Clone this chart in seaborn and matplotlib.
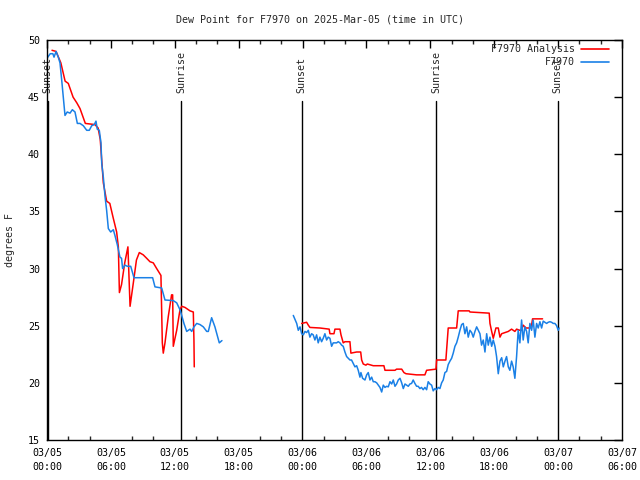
import matplotlib
matplotlib.use('Agg')
import matplotlib.pyplot as plt
import matplotlib.dates as mdates
from matplotlib.lines import Line2D
import seaborn as sns
import pandas as pd

# Hours after 2025-03-05 00:00 UTC
analysis_hours_1 = [0.47, 0.85, 1.3, 1.7, 2.0, 2.45, 2.8, 3.1, 3.6, 4.5, 4.8, 5.0, 5.29, 5.6, 5.9,
                    6.2, 6.54, 6.7, 6.8, 7.0, 7.3, 7.6, 7.8, 8.1, 8.4, 8.67, 9.04, 9.36, 9.67,
                    9.98, 10.3, 10.7, 10.83, 10.92, 11.08, 11.39, 11.7, 11.8, 11.86, 12.18,
                    12.49, 12.65, 12.96, 13.43, 13.74, 13.8, 13.83]
analysis_vals_1 = [49.1, 49.0, 48.0, 46.4, 46.2, 45.0, 44.5, 44.0, 42.7, 42.6, 42.3, 41.3, 37.5, 35.9, 35.7,
                   34.5, 33.2, 31.9, 27.9, 28.6, 30.5, 31.9, 26.7, 28.7, 30.75, 31.4, 31.2, 30.9, 30.6,
                   30.5, 30.0, 29.4, 23.5, 22.6, 23.5, 25.8, 27.7, 27.7, 23.2, 24.6,
                   26.4, 26.7, 26.6, 26.3, 26.2, 23.75, 21.4]

analysis_hours_2 = [23.92, 24.38, 24.54, 24.69, 25.63, 26.5, 26.57, 26.95, 27.04, 27.51, 27.61, 27.82,
                    27.98, 28.45, 28.54, 29.08, 29.46, 29.55, 29.7, 29.95, 30.08, 30.64, 31.64, 31.74,
                    32.68, 32.83, 33.31, 33.52, 33.71, 34.71, 35.49, 35.65, 36.53, 36.59, 37.46, 37.53,
                    37.68, 38.47, 38.62, 39.65, 39.72, 41.53, 41.6, 41.76, 41.91, 42.16, 42.38, 42.54,
                    42.7, 43.32, 43.63, 43.94, 44.1, 44.41, 44.57, 44.72, 44.98, 45.35, 45.51, 45.6, 46.54]
analysis_vals_2 = [25.2, 25.3, 25.05, 24.85, 24.8, 24.7, 24.3, 24.3, 24.7, 24.7, 24.2, 23.5,
                   23.6, 23.6, 22.6, 22.7, 22.7, 22.0, 21.65, 21.55, 21.65, 21.5, 21.5, 21.1,
                   21.1, 21.2, 21.2, 20.9, 20.8, 20.7, 20.7, 21.1, 21.2, 22.0, 22.0, 22.9,
                   24.8, 24.8, 26.3, 26.3, 26.2, 26.1, 25.2, 24.5, 23.9, 24.8, 24.8, 24.0,
                   24.3, 24.5, 24.7, 24.5, 24.7, 24.6, 24.6, 25.05, 24.8, 24.8, 25.05, 25.6, 25.6]

obs_hours_1 = [0.0, 0.3, 0.55, 0.66, 0.85, 1.06, 1.22, 1.38, 1.53, 1.69, 1.9, 2.16, 2.38, 2.63, 2.85,
               3.1, 3.41, 3.73, 3.97, 4.2, 4.44, 4.6, 4.72, 4.91, 5.07, 5.14, 5.29, 5.45, 5.6, 5.76,
               5.98, 6.23, 6.38, 6.6, 6.85, 7.0, 7.1, 7.32, 7.54, 7.86, 8.17, 9.92, 10.14, 10.77,
               11.08, 11.86, 12.18, 12.49, 12.65, 12.86, 13.12, 13.43, 13.59, 13.8, 14.06, 14.37,
               14.68, 15.0, 15.15, 15.46, 15.77, 16.18, 16.43]
obs_vals_1 = [48.4, 48.8, 48.8, 48.5, 49.0, 48.5, 48.0, 46.5, 45.0, 43.4, 43.7, 43.6, 43.9, 43.7, 42.7,
              42.7, 42.5, 42.1, 42.1, 42.5, 42.6, 42.9, 42.2, 42.1, 41.0, 39.2, 38.0, 36.3, 35.1, 33.5,
              33.2, 33.4, 32.9, 32.1, 31.0, 30.9, 30.0, 30.3, 30.2, 30.2, 29.2, 29.2, 28.4, 28.3,
              27.25, 27.2, 27.0, 26.4, 25.9, 25.2, 24.5, 24.7, 24.5, 24.9, 25.2, 25.1,
              24.9, 24.5, 24.5, 25.7, 24.9, 23.5, 23.7]

obs_hours_2 = [23.13, 23.45, 23.6, 23.76, 23.92, 24.07, 24.23, 24.38, 24.54, 24.69, 24.85, 25.0, 25.16,
               25.32, 25.47, 25.63, 25.79, 25.94, 26.1, 26.26, 26.41, 26.57, 26.73, 26.88, 27.2, 27.35,
               27.51, 27.67, 27.82, 27.98, 28.14, 28.29, 28.45, 28.6, 28.76, 28.92, 29.08, 29.23, 29.39,
               29.48, 29.64, 29.86, 30.02, 30.17, 30.33, 30.49, 30.64, 30.8, 30.96, 31.11, 31.27, 31.43,
               31.58, 31.74, 31.9, 32.05, 32.21, 32.37, 32.52, 32.68, 32.83, 32.99, 33.15, 33.31, 33.46,
               33.62, 33.77, 33.93, 34.08, 34.24, 34.39, 34.55, 34.71, 34.86, 35.02, 35.17, 35.33, 35.49,
               35.65, 35.8, 35.96, 36.12, 36.27, 36.43, 36.59, 36.74, 36.9, 37.06, 37.21, 37.37, 37.53,
               37.68, 37.84, 38.0, 38.15, 38.31, 38.47, 38.62, 38.78, 38.94, 39.09, 39.25, 39.41, 39.56,
               39.72, 39.88, 40.03, 40.19, 40.35, 40.5, 40.66, 40.81, 40.97, 41.13, 41.29, 41.44, 41.6,
               41.76, 41.91, 42.07, 42.22, 42.38, 42.54, 42.7, 42.85, 43.01, 43.16, 43.32, 43.47, 43.63,
               43.78, 43.94, 44.1, 44.25, 44.41, 44.57, 44.72, 44.88, 45.04, 45.19, 45.35, 45.51, 45.66,
               45.82, 45.98, 46.13, 46.29, 46.45, 46.6, 46.76, 46.92, 47.07, 47.23, 47.39, 47.54, 47.7,
               47.86, 48.01, 48.1]
obs_vals_2 = [25.9, 25.2, 24.6, 24.9, 24.3, 24.2, 24.5, 24.4, 24.6, 24.0, 24.3, 24.2, 23.75,
              24.2, 23.5, 24.0, 23.6, 23.9, 24.3, 23.75, 24.0, 23.9, 23.2, 23.5, 23.5, 23.6,
              23.5, 23.3, 23.2, 22.7, 22.3, 22.15, 22.0, 22.0, 21.7, 21.4, 21.5, 21.1, 20.5,
              20.9, 20.4, 20.25, 20.7, 20.9, 20.25, 20.5, 20.1, 20.1, 20.0, 19.8, 19.6, 19.2,
              19.8, 19.6, 19.7, 19.65, 20.1, 19.9, 20.25, 19.7, 19.9, 20.25, 20.4, 20.0, 19.5,
              19.9, 19.8, 19.7, 19.9, 19.95, 20.25, 19.95, 19.7, 19.7, 19.5, 19.6, 19.4, 19.6,
              19.4, 20.1, 19.9, 19.8, 19.3, 19.5, 19.4, 19.6, 19.5, 20.0, 20.25, 20.9, 21.0,
              21.6, 21.9, 22.15, 22.6, 23.2, 23.5, 24.0, 24.6, 25.1, 25.2, 24.3, 24.9, 24.0,
              24.6, 24.4, 24.0, 24.5, 24.9, 24.6, 24.3, 23.3, 23.75, 22.7, 24.3, 23.3, 24.0,
              23.2, 23.75, 23.2, 22.3, 20.8, 21.9, 22.2, 21.4, 21.9, 22.3, 21.4, 21.1, 21.9,
              21.4, 20.4, 22.3, 24.6, 23.5, 25.5, 23.75, 24.9, 24.5, 23.5, 25.2, 24.6, 25.5,
              24.0, 25.2, 24.8, 25.35, 24.8, 25.4, 25.3, 25.2, 25.3, 25.35, 25.3, 25.2, 25.2,
              25.0, 24.6, 24.8]

sun_hours = [0.05, 12.58, 23.93, 36.53, 47.97]
sun_labels = ['Sunset', 'Sunrise', 'Sunset', 'Sunrise', 'Sunset']

base = pd.Timestamp('2025-03-05 00:00')


def make_frame(hours, vals, series, seg):
    return pd.DataFrame({'time': base + pd.to_timedelta(hours, unit='h'),
                         'value': vals, 'series': series, 'segment': seg})


df = pd.concat([
    make_frame(analysis_hours_1, analysis_vals_1, 'F7970 Analysis', 'a1'),
    make_frame(analysis_hours_2, analysis_vals_2, 'F7970 Analysis', 'a2'),
    make_frame(obs_hours_1, obs_vals_1, 'F7970', 'o1'),
    make_frame(obs_hours_2, obs_vals_2, 'F7970', 'o2'),
], ignore_index=True)

sns.set_style('white')
plt.rcParams['font.family'] = ['DejaVu Sans Mono']
plt.rcParams['font.size'] = 7.2

colors = {'F7970 Analysis': '#ff0000', 'F7970': '#1a80e6'}

fig = plt.figure(figsize=(6.4, 4.8), dpi=100)
ax = fig.add_axes([47 / 640, 1 - 440 / 480, 575 / 640, 400 / 480])

# sunrise / sunset markers
for h, lab in zip(sun_hours, sun_labels):
    t = base + pd.Timedelta(hours=h)
    ax.plot([t, t], [15, 44.7], color='black', lw=1.0, zorder=1)
    ax.text(t, 45.4, lab, rotation=90, ha='center', va='bottom', fontsize=7.2, zorder=1)

sns.lineplot(data=df, x='time', y='value', hue='series', units='segment', estimator=None,
             sort=False, palette=colors, linewidth=1.1, legend=False, ax=ax, zorder=2)

ax.set_xlim(base, base + pd.Timedelta(hours=54))
ax.set_ylim(15, 50)
ax.set_yticks(range(15, 51, 5))
ax.xaxis.set_major_locator(mdates.HourLocator(byhour=[0, 6, 12, 18]))
ax.xaxis.set_minor_locator(mdates.HourLocator(byhour=range(0, 24, 2)))
ax.xaxis.set_major_formatter(mdates.DateFormatter('%m/%d\n%H:%M'))
ax.tick_params(axis='both', which='major', direction='in', length=6, width=1,
               top=True, right=True, labelsize=7.2, colors='black')
ax.tick_params(axis='x', which='minor', direction='in', length=3, width=1, top=True, bottom=True)
ax.tick_params(axis='x', which='major', pad=6)
ax.tick_params(axis='y', which='major', pad=5)
for lbl in ax.get_xticklabels():
    lbl.set_linespacing(1.45)
for s in ax.spines.values():
    s.set_color('black')
    s.set_linewidth(1.0)
ax.set_xlabel('')
ax.set_ylabel('')

fig.text(0.5, 1 - 19 / 480, 'Dew Point for F7970 on 2025-Mar-05 (time in UTC)',
         ha='center', va='center', fontsize=7.2)
fig.text(10 / 640, 0.5, 'degrees F', rotation=90, ha='center', va='center', fontsize=7.2)

# legend, gnuplot style: right aligned text with line sample
for i, name in enumerate(['F7970 Analysis', 'F7970']):
    y = 1 - (49 + 13 * i) / 480
    fig.text(575 / 640, y, name, ha='right', va='center', fontsize=7.2)
    fig.add_artist(Line2D([581 / 640, 609 / 640], [y, y], color=colors[name], lw=1.2))

fig.savefig('out.png', dpi=100)
